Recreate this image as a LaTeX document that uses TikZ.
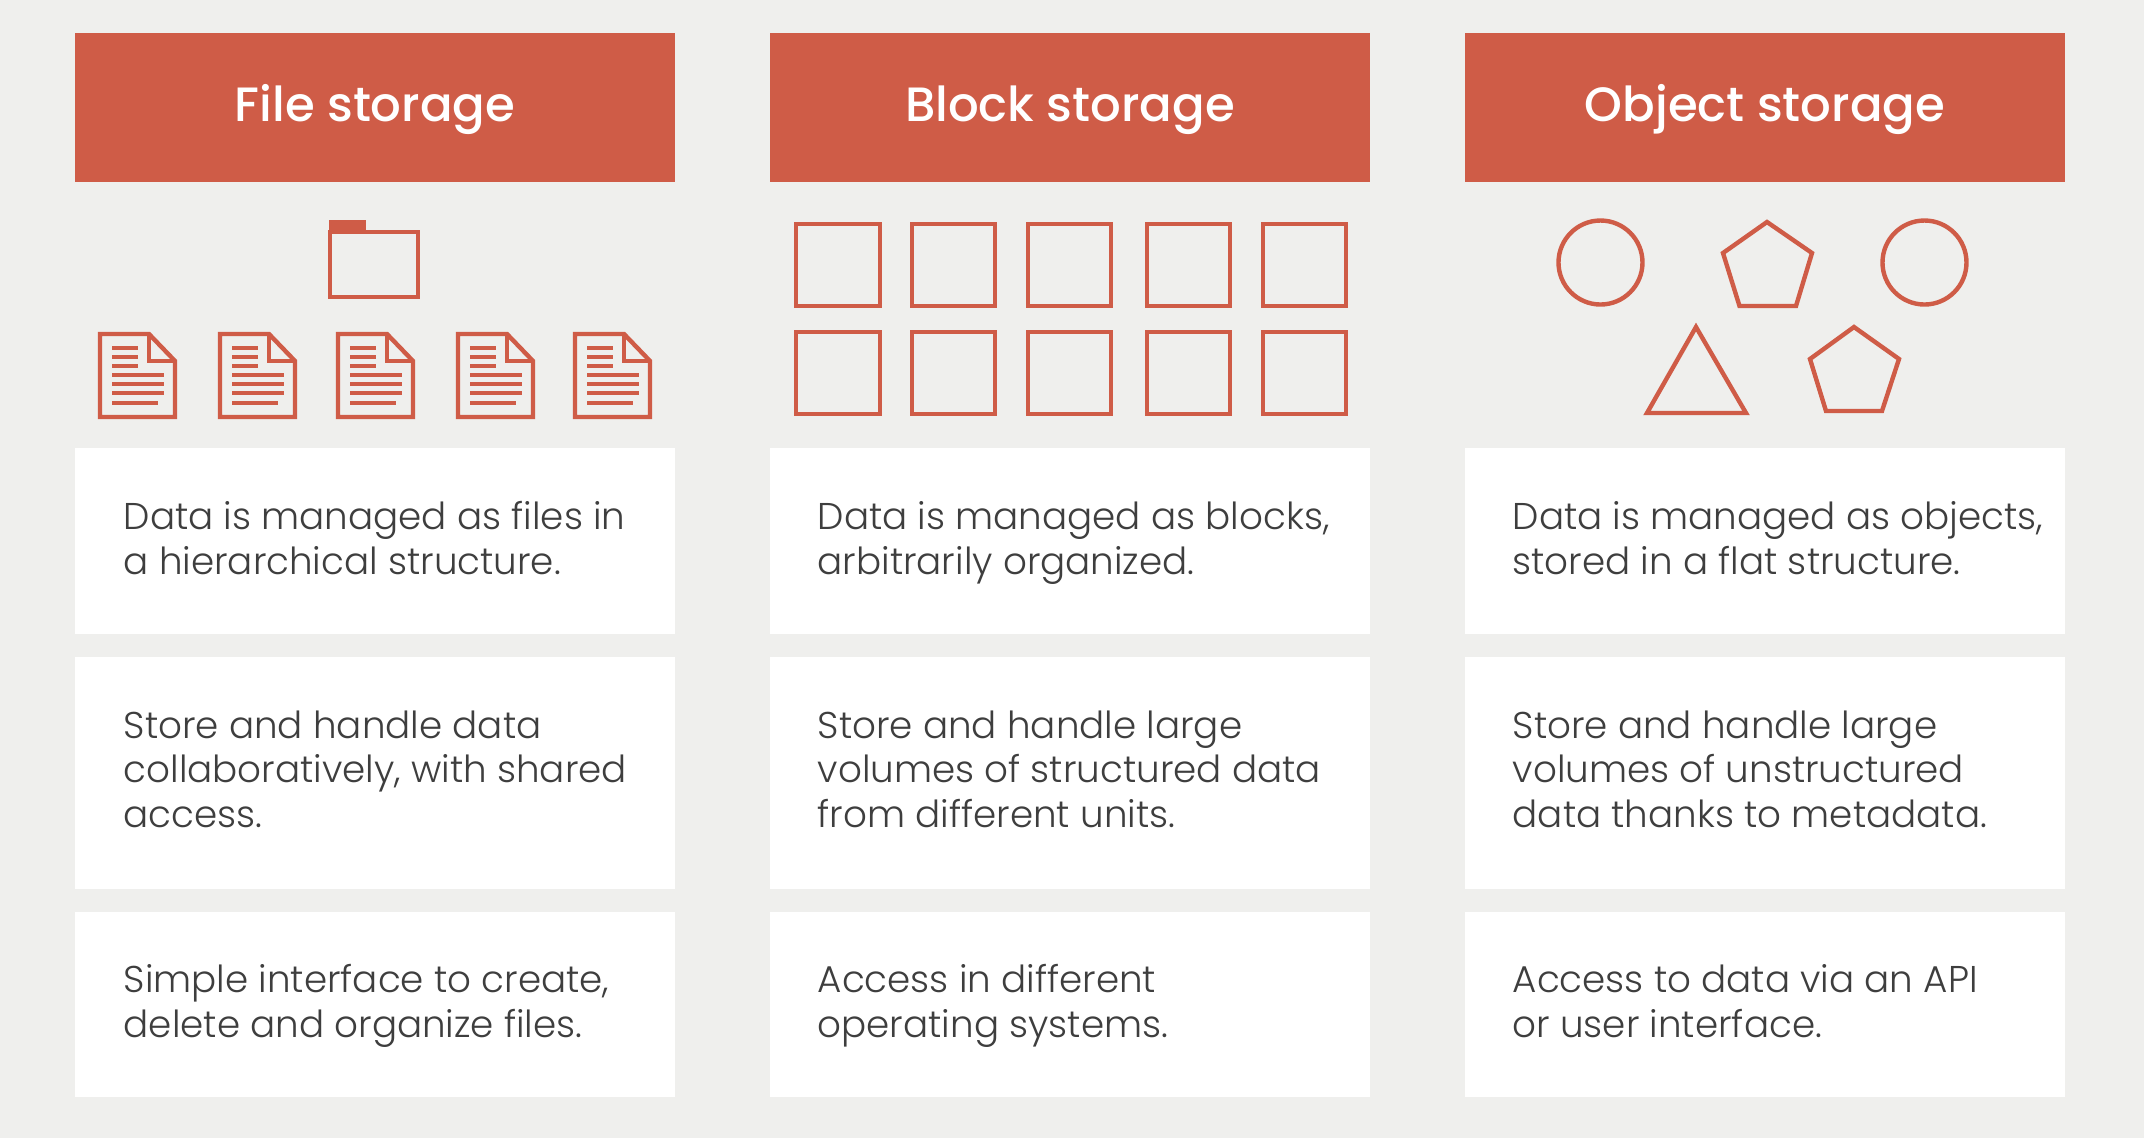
\documentclass[tikz,border=0pt]{standalone}
\usepackage{fontspec}
\setmainfont{Poppins Light}
\newfontfamily\headfont{Poppins Medium}
\usetikzlibrary{calc}
\definecolor{brick}{HTML}{CF5C47}
\definecolor{pagegray}{HTML}{EFEFED}
\definecolor{bodygray}{HTML}{3E3E3E}
\tikzset{
  headbar/.style={fill=brick,draw=none,minimum width=6cm,minimum height=1.48cm,inner sep=0pt,text=white,text height=13pt,text depth=4.8pt,font=\headfont\fontsize{13.7}{16}\selectfont},
  cardbox/.style={fill=white,draw=none},
  cardtext/.style={anchor=north west,inner sep=0pt,align=left,text=bodygray,font=\fontsize{10.6}{12.66}\selectfont,execute at begin node=\strut},
  iconline/.style={draw=brick,line width=1.25pt,line join=miter},
  docline/.style={draw=brick,line width=1.05pt}
}
\begin{document}
\begin{tikzpicture}[x=0.01cm,y=-0.01cm]
\useasboundingbox[fill=pagegray] (0,0) rectangle (2144,1138);
% headers
\node[headbar] (headfile) at (375,107.5) {File storage};
\node[headbar] (headblock) at (1070,107.5) {Block storage};
\node[headbar] (headobject) at (1765,107.5) {Object storage};
% cards
\foreach \cx in {75,770,1465} {
  \fill[cardbox] (\cx,448) rectangle ++(600,186);
  \fill[cardbox] (\cx,657) rectangle ++(600,232);
  \fill[cardbox] (\cx,912) rectangle ++(600,185);
}
% folder
\draw[iconline] (330,232) rectangle (418,297);
\fill[brick] (329,220) rectangle (366,234);
% documents
\foreach \dx in {100,220,338,458,575} {
  \begin{scope}[shift={(\dx,1)}]
    \draw[iconline] (0,333) -- (49,333) -- (75,360) -- (75,416) -- (0,416) -- cycle;
    \draw[iconline] (49,333) -- (49,360) -- (75,360);
    \foreach \ly in {347,356,365} \draw[docline] (12,\ly) -- (38,\ly);
    \foreach \ly in {374,383,392} \draw[docline] (12,\ly) -- (64,\ly);
    \draw[docline] (12,402) -- (58,402);
  \end{scope}
}
% blocks
\foreach \bx/\bw in {796/84,912/83,1028/83,1147/83,1263/83} {
  \draw[iconline] (\bx,224) rectangle ++(\bw,82);
  \draw[iconline] (\bx,332) rectangle ++(\bw,82);
}
% objects
\draw[iconline] (1600.5,262.5) circle (42);
\draw[iconline] (1924.5,262.5) circle (42);
\draw[iconline] (1767,222) -- (1812,253) -- (1796,306) -- (1739.5,306) -- (1723,253) -- cycle;
\draw[iconline] (1696,327) -- (1746,413) -- (1647,413) -- cycle;
\draw[iconline] (1854,327) -- (1899,359) -- (1882,411) -- (1826,411) -- (1810,359) -- cycle;
% card texts
\node[cardtext] (filea) at (123,501) {Data is managed as files in\\a hierarchical structure.};
\node[cardtext] (blocka) at (817,501) {Data is managed as blocks,\\arbitrarily organized.};
\node[cardtext] (objecta) at (1512,501) {Data is managed as objects,\\stored in a flat structure.};
\node[cardtext] (fileb) at (123,710) {Store and handle data\\collaboratively, with shared\\access.};
\node[cardtext] (blockb) at (817,710) {Store and handle large\\volumes of structured data\\from different units.};
\node[cardtext] (objectb) at (1512,710) {Store and handle large\\volumes of unstructured\\data thanks to metadata.};
\node[cardtext] (filec) at (123,964) {Simple interface to create,\\delete and organize files.};
\node[cardtext] (blockc) at (817,964) {Access in different\\operating systems.};
\node[cardtext] (objectc) at (1512,964) {Access to data via an API\\or user interface.};
\end{tikzpicture}
\end{document}
